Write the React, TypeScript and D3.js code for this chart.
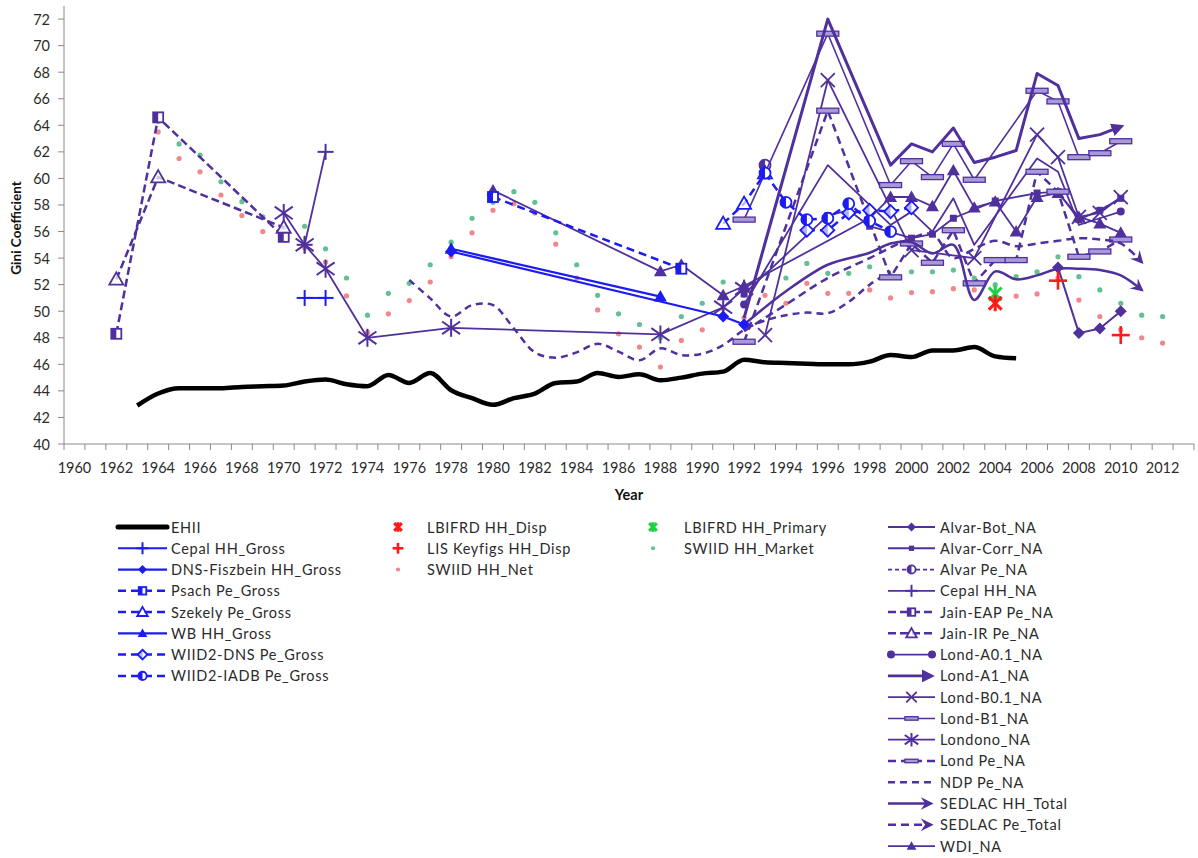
import * as d3 from 'd3'

type Pt = [number, number]

// ---- categories / ticks ----
const YEARS = d3.range(1960, 2014)
const YEAR_LABELS = YEARS.filter((y) => y % 2 === 0)
const GINI_TICKS = d3.range(40, 73, 2)

// ---- series values (year, gini) ----
const ehii: Pt[] = [[1963,42.9],[1964,43.8],[1965,44.2],[1966,44.2],[1967,44.2],[1968,44.3],[1969,44.35],[1970,44.4],[1971,44.7],[1972,44.85],[1973,44.5],[1974,44.35],[1975,45.2],[1976,44.6],[1977,45.35],[1978,44.05],[1979,43.45],[1980,42.95],[1981,43.45],[1982,43.8],[1983,44.6],[1984,44.7],[1985,45.35],[1986,45.05],[1987,45.25],[1988,44.8],[1989,45.0],[1990,45.3],[1991,45.45],[1992,46.35],[1993,46.15],[1994,46.1],[1995,46.05],[1996,46.0],[1997,46.0],[1998,46.2],[1999,46.7],[2000,46.55],[2001,47.05],[2002,47.05],[2003,47.3],[2004,46.6],[2005,46.45]]

const cepalGross: Pt[] = [[1971,51.0],[1972,51.0]]
const dnsFiszbein: Pt[] = [[1978,54.5],[1991,49.6],[1992,49.0]]
const psach: Pt[] = [[1980,58.6],[1989,53.2]]
const szekely: Pt[] = [[1991,56.6],[1992,58.1],[1993,60.4]]
const wbGross: Pt[] = [[1978,54.7],[1988,51.1]]
const wiidDns: Pt[] = [[1995,56.1],[1996,56.1],[1997,57.4],[1998,57.6],[1999,57.5],[2000,57.8]]
const wiidIadb: Pt[] = [[1993,60.4],[1994,58.2],[1995,56.9],[1996,57.0],[1997,58.1],[1998,56.8],[1999,56.0]]

const lbifrdDisp: Pt[] = [[2004,50.6]]
const lisKeyfigs: Pt[] = [[2007,52.3],[2010,48.2]]
const lbifrdPrimary: Pt[] = [[2004,51.3]]

const swiidNet: Pt[] = [[1964,63.5],[1965,61.5],[1966,60.5],[1967,58.75],[1968,57.2],[1969,56.0],[1970,55.6],[1971,54.8],[1972,53.7],[1973,51.15],[1974,48.4],[1975,49.8],[1976,50.8],[1977,52.2],[1978,54.1],[1979,55.9],[1980,57.6],[1981,58.1],[1982,57.4],[1983,55.05],[1984,52.5],[1985,50.1],[1986,48.3],[1987,47.3],[1988,45.8],[1989,47.8],[1990,48.6],[1991,50.2],[1992,49.5],[1993,51.2],[1994,50.6],[1995,52.1],[1996,51.35],[1997,51.35],[1998,51.6],[1999,51.0],[2000,51.4],[2001,51.47],[2002,51.7],[2003,51.6],[2004,50.9],[2005,51.14],[2006,51.3],[2007,52.5],[2008,50.84],[2009,49.6],[2010,48.6],[2011,48.0],[2012,47.6]]
const swiidMarket: Pt[] = [[1964,64.3],[1965,62.6],[1966,61.75],[1967,59.75],[1968,58.25],[1969,57.1],[1970,56.3],[1971,56.4],[1972,54.7],[1973,52.5],[1974,49.7],[1975,51.35],[1976,52.1],[1977,53.5],[1978,55.2],[1979,57.0],[1980,58.2],[1981,59.0],[1982,58.2],[1983,55.9],[1984,53.5],[1985,51.2],[1986,49.8],[1987,49.0],[1988,48.0],[1989,49.6],[1990,50.6],[1991,52.2],[1992,51.6],[1993,52.85],[1994,52.5],[1995,53.6],[1996,52.85],[1997,52.85],[1998,53.35],[1999,52.7],[2000,52.97],[2001,52.97],[2002,53.1],[2003,52.5],[2004,52.0],[2005,52.6],[2006,52.97],[2007,54.1],[2008,52.6],[2009,51.6],[2010,50.6],[2011,49.7],[2012,49.6]]

const alvarBot: Pt[] = [[2007,53.3],[2008,48.35],[2009,48.7],[2010,50.0]]
const alvarCorr: Pt[] = [[1992,51.3],[1996,57.2],[1997,57.6],[1998,56.4],[2000,55.5],[2001,55.8],[2002,57.0],[2004,58.3],[2006,58.9],[2007,59.0],[2008,56.9],[2009,57.6],[2010,58.5]]
const alvarPe: Pt[] = [[1993,61.0]]
const cepalNA: Pt[] = [[1971,55.0],[1972,62.0]]
const jainEap: Pt[] = [[1962,48.3],[1964,64.6],[1970,55.6]]
const jainIr: Pt[] = [[1962,52.4],[1964,60.1],[1970,56.3]]
const londA01: Pt[] = [[1992,50.5],[1996,61.0],[1999,56.5],[2000,57.5],[2001,56.0],[2002,58.5],[2003,55.0],[2006,61.5],[2007,60.5],[2008,56.5],[2009,57.0],[2010,57.5]]
const londA1: Pt[] = [[1992,49.5],[1996,72.0],[1999,61.0],[2000,62.6],[2001,62.0],[2002,63.8],[2003,61.2],[2004,61.6],[2005,62.1],[2006,67.9],[2007,67.0],[2008,63.0],[2009,63.3],[2010,63.9]]
const londB01: Pt[] = [[1993,48.2],[1996,67.4],[2000,54.6],[2003,54.0],[2006,63.3],[2007,61.6],[2008,57.1],[2009,57.4],[2010,58.6]]
const londB1: Pt[] = [[1992,56.9],[1996,70.9],[1999,59.5],[2000,61.3],[2001,60.1],[2002,62.6],[2003,59.9],[2006,66.6],[2007,65.8],[2008,61.6],[2009,61.9],[2010,62.8]]
const londono: Pt[] = [[1970,57.4],[1971,55.0],[1972,53.2],[1974,48.0],[1978,48.75],[1988,48.25],[1991,50.3],[1992,51.7]]
const londPe: Pt[] = [[1992,47.7],[1996,65.1],[1999,52.55],[2000,55.1],[2001,53.65],[2002,56.1],[2003,52.1],[2004,53.85],[2005,53.85],[2006,60.5],[2007,59.0],[2008,54.1],[2009,54.5],[2010,55.4]]
const ndp: Pt[] = [[1976,52.35],[1977,50.97],[1978,49.6],[1979,50.46],[1980,50.46],[1981,48.7],[1982,46.9],[1983,46.5],[1984,46.9],[1985,47.55],[1986,46.95],[1987,46.3],[1988,47.2],[1989,46.7],[1990,46.8],[1991,47.45],[1992,48.6],[1993,49.3],[1994,49.7],[1995,49.9],[1996,49.85],[1997,50.7],[1998,52.0],[1999,53.0]]
const sedlacHH: Pt[] = [[1992,49.0],[1994,51.5],[1996,53.5],[1998,54.4],[1999,55.1],[2000,55.2],[2001,54.35],[2002,55.0],[2003,50.85],[2004,53.0],[2005,52.4],[2006,52.7],[2007,53.2],[2008,53.2],[2009,53.1],[2010,52.7],[2011,51.6]]
const sedlacPe: Pt[] = [[1992,48.5],[1994,50.5],[1996,52.5],[1998,54.0],[2000,55.5],[2001,55.8],[2002,54.0],[2003,54.7],[2004,55.3],[2005,54.9],[2006,55.1],[2007,55.3],[2008,55.5],[2009,55.4],[2010,55.1],[2011,53.7]]
const wdi: Pt[] = [[1980,59.1],[1988,53.0],[1989,53.5],[1991,51.2],[1992,51.9],[1998,57.0],[1999,58.6],[2000,58.6],[2001,57.9],[2002,60.6],[2003,57.8],[2004,58.25],[2005,56.0],[2006,58.6],[2007,58.9],[2008,57.1],[2009,56.6],[2010,55.9]]

// ---- styling ----
const PURPLE = '#50309c'
const BLUE = '#1c1cf2'
const RED = '#ff1a1a'
const GREEN = '#1fd045'
const LAVENDER = '#a899d8'
const AXIS = '#8a8a8a'
const TEXT = '#2b2b2b'
const FONT = 'Lato, "Open Sans", sans-serif'

type MarkerType =
  | 'plus' | 'bigPlus' | 'diamond' | 'diamondOpen' | 'halfSquare' | 'triangleOpen'
  | 'triangle' | 'halfCircle' | 'square' | 'x' | 'asterisk' | 'dash' | 'xstar' | 'dot'

type CurveKind = 'linear' | 'monotone' | 'smooth'

interface Series {
  key: string
  label: string
  data: Pt[]
  color: string
  width?: number
  dash?: string
  marker?: MarkerType
  noLine?: boolean
  curve?: CurveKind
  arrow?: 'solid' | 'open'
  endDots?: boolean
}

const SERIES: Series[] = [
  { key: 'swiidMarket', label: 'SWIID HH_Market', data: swiidMarket, color: '#62c190', marker: 'dot', noLine: true },
  { key: 'swiidNet', label: 'SWIID HH_Net', data: swiidNet, color: '#f0878a', marker: 'dot', noLine: true },
  { key: 'ehii', label: 'EHII', data: ehii, color: '#000', width: 4.5, curve: 'monotone' },
  { key: 'ndp', label: 'NDP Pe_NA', data: ndp, color: PURPLE, width: 2.5, dash: '7 5', curve: 'smooth' },
  { key: 'jainEap', label: 'Jain-EAP Pe_NA', data: jainEap, color: PURPLE, width: 2.5, dash: '8 4', marker: 'halfSquare' },
  { key: 'jainIr', label: 'Jain-IR Pe_NA', data: jainIr, color: PURPLE, width: 2.5, dash: '8 4', marker: 'triangleOpen' },
  { key: 'londono', label: 'Londono_NA', data: londono, color: PURPLE, width: 1.8, marker: 'asterisk' },
  { key: 'cepalNA', label: 'Cepal HH_NA', data: cepalNA, color: PURPLE, width: 1.8, marker: 'plus' },
  { key: 'wdi', label: 'WDI_NA', data: wdi, color: PURPLE, width: 1.8, marker: 'triangle' },
  { key: 'alvarCorr', label: 'Alvar-Corr_NA', data: alvarCorr, color: PURPLE, width: 1.8, marker: 'square' },
  { key: 'alvarBot', label: 'Alvar-Bot_NA', data: alvarBot, color: PURPLE, width: 2, marker: 'diamond' },
  { key: 'alvarPe', label: 'Alvar Pe_NA', data: alvarPe, color: PURPLE, width: 1.8, dash: '4 3', marker: 'halfCircle' },
  { key: 'londA01', label: 'Lond-A0.1_NA', data: londA01, color: PURPLE, width: 1.8, endDots: true },
  { key: 'londB01', label: 'Lond-B0.1_NA', data: londB01, color: PURPLE, width: 1.8, marker: 'x' },
  { key: 'londB1', label: 'Lond-B1_NA', data: londB1, color: PURPLE, width: 1.6, marker: 'dash' },
  { key: 'londA1', label: 'Lond-A1_NA', data: londA1, color: PURPLE, width: 3, arrow: 'solid' },
  { key: 'londPe', label: 'Lond Pe_NA', data: londPe, color: PURPLE, width: 2.5, dash: '8 5', marker: 'dash' },
  { key: 'sedlacHH', label: 'SEDLAC HH_Total', data: sedlacHH, color: PURPLE, width: 2.5, arrow: 'open', curve: 'smooth' },
  { key: 'sedlacPe', label: 'SEDLAC Pe_Total', data: sedlacPe, color: PURPLE, width: 2.5, dash: '8 5', arrow: 'open', curve: 'smooth' },
  { key: 'cepalGross', label: 'Cepal HH_Gross', data: cepalGross, color: BLUE, width: 2, marker: 'plus' },
  { key: 'dnsFiszbein', label: 'DNS-Fiszbein HH_Gross', data: dnsFiszbein, color: BLUE, width: 2.2, marker: 'diamond' },
  { key: 'wbGross', label: 'WB HH_Gross', data: wbGross, color: BLUE, width: 2.2, marker: 'triangle' },
  { key: 'psach', label: 'Psach Pe_Gross', data: psach, color: BLUE, width: 2.5, dash: '8 5', marker: 'halfSquare' },
  { key: 'szekely', label: 'Szekely Pe_Gross', data: szekely, color: BLUE, width: 2.5, dash: '8 5', marker: 'triangleOpen' },
  { key: 'wiidDns', label: 'WIID2-DNS Pe_Gross', data: wiidDns, color: BLUE, width: 2.5, dash: '8 5', marker: 'diamondOpen' },
  { key: 'wiidIadb', label: 'WIID2-IADB Pe_Gross', data: wiidIadb, color: BLUE, width: 2.5, dash: '8 5', marker: 'halfCircle' },
  { key: 'lbifrdPrimary', label: 'LBIFRD HH_Primary', data: lbifrdPrimary, color: GREEN, marker: 'xstar', noLine: true },
  { key: 'lbifrdDisp', label: 'LBIFRD HH_Disp', data: lbifrdDisp, color: RED, marker: 'xstar', noLine: true },
  { key: 'lisKeyfigs', label: 'LIS Keyfigs HH_Disp', data: lisKeyfigs, color: RED, marker: 'bigPlus', noLine: true },
]

const LEGEND_COL1 = ['ehii', 'cepalGross', 'dnsFiszbein', 'psach', 'szekely', 'wbGross', 'wiidDns', 'wiidIadb']
const LEGEND_COL2 = ['lbifrdDisp', 'lisKeyfigs', 'swiidNet']
const LEGEND_COL3 = ['lbifrdPrimary', 'swiidMarket']
const LEGEND_COL4 = ['alvarBot', 'alvarCorr', 'alvarPe', 'cepalNA', 'jainEap', 'jainIr', 'londA01', 'londA1', 'londB01', 'londB1', 'londono', 'londPe', 'ndp', 'sedlacHH', 'sedlacPe', 'wdi']

function Marker({ type, x, y, color, s = 1 }: { type: MarkerType; x: number; y: number; color: string; s?: number }) {
  switch (type) {
    case 'plus': {
      const r = 8 * s
      return (
        <g stroke={color} strokeWidth={2}>
          <line x1={x - r} x2={x + r} y1={y} y2={y} />
          <line x1={x} x2={x} y1={y - r} y2={y + r} />
        </g>
      )
    }
    case 'bigPlus': {
      const r = 9 * s
      return (
        <g stroke={color} strokeWidth={2.6}>
          <line x1={x - r} x2={x + r} y1={y} y2={y} />
          <line x1={x} x2={x} y1={y - r} y2={y + r} />
        </g>
      )
    }
    case 'diamond': {
      const r = 6 * s
      return <polygon points={`${x},${y - r} ${x + r},${y} ${x},${y + r} ${x - r},${y}`} fill={color} />
    }
    case 'diamondOpen': {
      const r = 6.5 * s
      return (
        <g>
          <polygon points={`${x},${y - r} ${x + r},${y} ${x},${y + r} ${x - r},${y}`} fill="#fff" stroke={color} strokeWidth={1.8} />
          <polygon points={`${x},${y - r} ${x},${y + r} ${x - r},${y}`} fill={color} opacity={0.35} />
        </g>
      )
    }
    case 'halfSquare': {
      const r = 5 * s
      return (
        <g>
          <rect x={x - r} y={y - r} width={2 * r} height={2 * r} fill="#fff" stroke={color} strokeWidth={1.8} />
          <rect x={x - r} y={y - r} width={r} height={2 * r} fill={color} />
        </g>
      )
    }
    case 'triangleOpen': {
      const r = 7 * s
      return (
        <polygon
          points={`${x},${y - r} ${x + r},${y + r * 0.75} ${x - r},${y + r * 0.75}`}
          fill="#fff" fillOpacity={0.7} stroke={color} strokeWidth={1.8}
        />
      )
    }
    case 'triangle': {
      const r = 6.5 * s
      return <polygon points={`${x},${y - r} ${x + r},${y + r * 0.75} ${x - r},${y + r * 0.75}`} fill={color} />
    }
    case 'halfCircle': {
      const r = 5.5 * s
      return (
        <g>
          <circle cx={x} cy={y} r={r} fill="#fff" stroke={color} strokeWidth={1.8} />
          <path d={`M${x},${y - r} A${r},${r} 0 0 0 ${x},${y + r} Z`} fill={color} />
        </g>
      )
    }
    case 'square': {
      const r = 3.5 * s
      return <rect x={x - r} y={y - r} width={2 * r} height={2 * r} fill={color} />
    }
    case 'x': {
      const r = 7 * s
      return (
        <g stroke={color} strokeWidth={1.8}>
          <line x1={x - r} x2={x + r} y1={y - r} y2={y + r} />
          <line x1={x - r} x2={x + r} y1={y + r} y2={y - r} />
        </g>
      )
    }
    case 'asterisk': {
      const r = 9 * s
      return (
        <g stroke={color} strokeWidth={2}>
          <line x1={x - r} x2={x + r} y1={y - r * 0.7} y2={y + r * 0.7} />
          <line x1={x - r} x2={x + r} y1={y + r * 0.7} y2={y - r * 0.7} />
          <line x1={x} x2={x} y1={y - r} y2={y + r} />
        </g>
      )
    }
    case 'dash': {
      const w = 22 * s
      const h = Math.max(3.5, 5 * s)
      return <rect x={x - w / 2} y={y - h / 2} width={w} height={h} fill={LAVENDER} stroke={color} strokeWidth={1.3} />
    }
    case 'xstar': {
      const r = 8 * s
      return (
        <g stroke={color} strokeWidth={3}>
          <line x1={x - r * 0.8} x2={x + r * 0.8} y1={y - r * 0.8} y2={y + r * 0.8} />
          <line x1={x - r * 0.8} x2={x + r * 0.8} y1={y + r * 0.8} y2={y - r * 0.8} />
          <line x1={x} x2={x} y1={y - r} y2={y + r} />
        </g>
      )
    }
    case 'dot':
      return <circle cx={x} cy={y} r={2.6 * s} fill={color} />
  }
  return null
}

const curveOf = (c?: CurveKind) =>
  c === 'smooth' ? d3.curveCatmullRom.alpha(0.5) : c === 'monotone' ? d3.curveMonotoneX : d3.curveLinear

export default function App() {
  const W = 1198
  const H = 858
  const x = d3.scaleBand<number>().domain(YEARS).range([64, 1194])
  const cx = (yr: number) => (x(yr) ?? 0) + x.bandwidth() / 2
  const y = d3.scaleLinear().domain([40, 73]).range([444, 5.8])

  const lineGen = (s: Series) =>
    d3
      .line<Pt>()
      .x((d) => cx(d[0]))
      .y((d) => y(d[1]))
      .curve(curveOf(s.curve))(s.data) ?? ''

  const byKey = new Map(SERIES.map((s) => [s.key, s]))
  const ROW0 = 527
  const ROW_H = 21.27

  const legendLine = (s: Series, x0: number, x1: number, yy: number) => {
    const mid = (x0 + x1) / 2
    return (
      <g>
        <line
          x1={x0} x2={s.arrow ? x1 - 4 : x1} y1={yy} y2={yy}
          stroke={s.color} strokeWidth={s.key === 'ehii' ? 5 : Math.min(s.width ?? 2, 2.8)}
          strokeDasharray={s.dash}
          strokeLinecap={s.key === 'ehii' ? 'round' : 'butt'}
          markerEnd={s.arrow ? `url(#arrow-${s.arrow})` : undefined}
        />
        {s.endDots && (
          <>
            <circle cx={x0 + 3} cy={yy} r={4} fill={s.color} />
            <circle cx={x1 - 3} cy={yy} r={4} fill={s.color} />
          </>
        )}
        {s.marker && <Marker type={s.marker} x={mid} y={yy} color={s.color} s={s.marker === 'dash' ? 0.6 : 0.75} />}
      </g>
    )
  }

  const LS = 0.7

  return (
    <div style={{ position: 'absolute', left: 0, top: 0 }}>
      <svg width={W} height={H} style={{ display: 'block', background: '#fff', fontFamily: FONT }}>
        <defs>
          <marker id="arrow-solid" viewBox="0 0 10 10" refX="7" refY="5" markerWidth="13" markerHeight="13" markerUnits="userSpaceOnUse" orient="auto">
            <path d="M0,0 L10,5 L0,10 z" fill={PURPLE} />
          </marker>
          <marker id="arrow-open" viewBox="0 0 10 10" refX="8" refY="5" markerWidth="13" markerHeight="13" markerUnits="userSpaceOnUse" orient="auto">
            <path d="M0,0 L10,5 L0,10 L3.5,5 z" fill={PURPLE} />
          </marker>
        </defs>

        {/* axes */}
        <line x1={64} x2={64} y1={5.8} y2={444} stroke={AXIS} strokeWidth={1} />
        <line x1={64} x2={1194} y1={444} y2={444} stroke={AXIS} strokeWidth={1} />
        {GINI_TICKS.map((t) => (
          <g key={t}>
            <line x1={58} x2={64} y1={y(t)} y2={y(t)} stroke={AXIS} />
            <text x={50} y={y(t)} textAnchor="end" dominantBaseline="central" fontSize={14.5} fill={TEXT}>
              {t}
            </text>
          </g>
        ))}
        {[...YEARS, 2014].map((yr) => {
          const px = yr === 2014 ? 1194 : x(yr)!
          return <line key={yr} x1={px} x2={px} y1={444} y2={450} stroke={AXIS} />
        })}
        {YEAR_LABELS.map((yr) => (
          <text key={yr} x={cx(yr)} y={473} textAnchor="middle" fontSize={14.5} fill={TEXT}>
            {yr}
          </text>
        ))}
        <text
          transform={`translate(21,228) rotate(-90)`}
          textAnchor="middle" fontSize={13.5} fontWeight="bold" fill="#111"
        >
          Gini Coefficient
        </text>
        <text x={629} y={500} textAnchor="middle" fontSize={14.5} fontWeight="bold" fill="#111">
          Year
        </text>

        {/* series */}
        {SERIES.map((s) => (
          <g key={s.key}>
            {!s.noLine && s.data.length > 1 && (
              <path
                d={lineGen(s)}
                fill="none"
                stroke={s.color}
                strokeWidth={s.width ?? 2}
                strokeDasharray={s.dash}
                strokeLinejoin="round"
                markerEnd={s.arrow ? `url(#arrow-${s.arrow})` : undefined}
              />
            )}
            {s.endDots && (
              <>
                <circle cx={cx(s.data[0][0])} cy={y(s.data[0][1])} r={4} fill={s.color} />
                <circle cx={cx(s.data[s.data.length - 1][0])} cy={y(s.data[s.data.length - 1][1])} r={4} fill={s.color} />
              </>
            )}
            {s.marker &&
              s.data.map((d, i) => (
                <Marker key={i} type={s.marker!} x={cx(d[0])} y={y(d[1])} color={s.color} />
              ))}
          </g>
        ))}

        {/* legend */}
        <g fontSize={14.5} fill={TEXT}>
          {LEGEND_COL1.map((k, i) => {
            const s = byKey.get(k)!
            const yy = ROW0 + i * ROW_H
            return (
              <g key={k}>
                {legendLine(s, 118, 167, yy)}
                <text x={171} y={yy} dominantBaseline="central" letterSpacing={LS}>{s.label}</text>
              </g>
            )
          })}
          {LEGEND_COL2.map((k, i) => {
            const s = byKey.get(k)!
            const yy = ROW0 + i * ROW_H
            return (
              <g key={k}>
                <Marker type={s.marker!} x={398} y={yy} color={s.color} s={s.marker === 'dot' ? 0.8 : 0.6} />
                <text x={427} y={yy} dominantBaseline="central" letterSpacing={LS}>{s.label}</text>
              </g>
            )
          })}
          {LEGEND_COL3.map((k, i) => {
            const s = byKey.get(k)!
            const yy = ROW0 + i * ROW_H
            return (
              <g key={k}>
                <Marker type={s.marker!} x={653} y={yy} color={s.color} s={s.marker === 'dot' ? 0.8 : 0.6} />
                <text x={684} y={yy} dominantBaseline="central" letterSpacing={LS}>{s.label}</text>
              </g>
            )
          })}
          {LEGEND_COL4.map((k, i) => {
            const s = byKey.get(k)!
            const yy = ROW0 + i * ROW_H
            return (
              <g key={k}>
                {legendLine(s, 888, 935, yy)}
                <text x={940} y={yy} dominantBaseline="central" letterSpacing={LS}>{s.label}</text>
              </g>
            )
          })}
        </g>
      </svg>
    </div>
  )
}
